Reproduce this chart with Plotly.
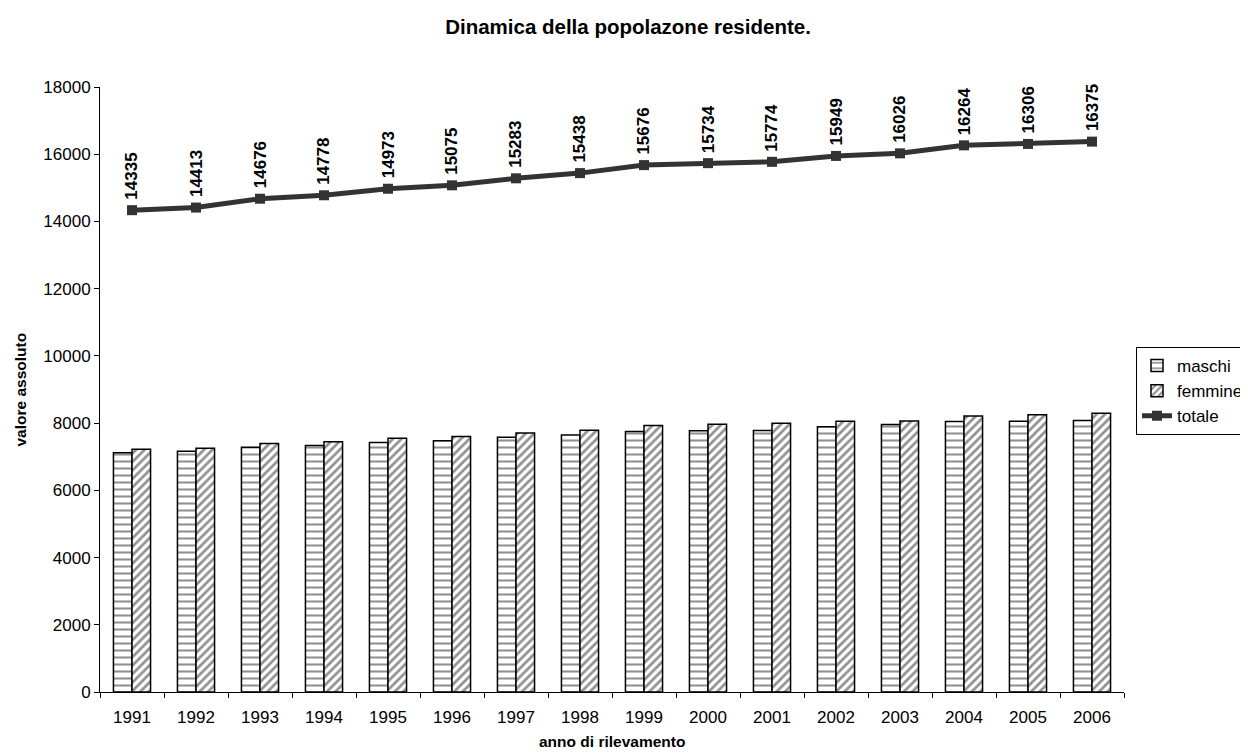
import plotly.graph_objects as go

years = ["1991", "1992", "1993", "1994", "1995", "1996", "1997", "1998",
         "1999", "2000", "2001", "2002", "2003", "2004", "2005", "2006"]
maschi = [7115, 7160, 7285, 7335, 7420, 7475, 7580, 7650,
          7750, 7770, 7780, 7890, 7960, 8050, 8055, 8080]
femmine = [7220, 7253, 7391, 7443, 7553, 7600, 7703, 7788,
           7926, 7964, 7994, 8059, 8066, 8214, 8251, 8295]
totale = [14335, 14413, 14676, 14778, 14973, 15075, 15283, 15438,
          15676, 15734, 15774, 15949, 16026, 16264, 16306, 16375]
y_ticks = [0, 2000, 4000, 6000, 8000, 10000, 12000, 14000, 16000, 18000]

FONT = "Liberation Sans, Arial, sans-serif"

# figure is drawn inside the page's 8px body margin
W, H = 1240, 746
L, T, R, B = 92, 79, 124, 62
PW, PH = W - L - R, H - T - B

fig = go.Figure()
fig.add_trace(go.Bar(
    x=years, y=maschi, name="maschi",
    marker=dict(color="white", line=dict(color="black", width=1.5),
                pattern=dict(shape="-", fgcolor="#222222", bgcolor="white",
                             size=7, solidity=0.3)),
))
fig.add_trace(go.Bar(
    x=years, y=femmine, name="femmine",
    marker=dict(color="white", line=dict(color="black", width=1.5),
                pattern=dict(shape="/", fgcolor="#222222", bgcolor="white",
                             size=6, solidity=0.45)),
))
fig.add_trace(go.Scatter(
    x=years, y=totale, name="totale", mode="lines+markers",
    line=dict(color="#333333", width=5),
    marker=dict(symbol="square", size=10, color="#333333"),
))

annotations = []
for i, v in enumerate(totale):
    annotations.append(dict(
        x=i, y=v, xref="x", yref="y", text="<b>%d</b>" % v, showarrow=False,
        textangle=-90, yanchor="bottom", xanchor="center", yshift=8,
        font=dict(family=FONT, size=17, color="black"),
    ))
annotations.append(dict(
    x=0.5, y=-(733 - 684) / PH, xref="paper", yref="paper",
    text="<b>anno di rilevamento</b>",
    showarrow=False, font=dict(family=FONT, size=15.5, color="black"),
    xanchor="center", yanchor="middle",
))
annotations.append(dict(
    x=-(L - 12) / PW, y=0.5, xref="paper", yref="paper",
    text="<b>valore assoluto</b>",
    showarrow=False, textangle=-90, font=dict(family=FONT, size=15.5, color="black"),
    xanchor="center", yanchor="middle",
))

fig.update_layout(
    width=W, height=H,
    paper_bgcolor="white", plot_bgcolor="white",
    margin=dict(l=L, r=R, t=T, b=B, autoexpand=False),
    font=dict(family=FONT, size=17, color="black"),
    title=dict(text="<b>Dinamica della popolazone residente.</b>",
               x=0.5, xref="container", xanchor="center",
               y=1 - 19 / H, yref="container", yanchor="middle",
               font=dict(family=FONT, size=20.5, color="black")),
    barmode="group", bargap=0.42, bargroupgap=0,
    showlegend=True,
    legend=dict(x=(1128 - L) / PW, xanchor="left",
                y=(684 - 339) / PH, yanchor="top",
                bordercolor="black", borderwidth=1, bgcolor="white",
                font=dict(family=FONT, size=17, color="black"),
                itemwidth=30, tracegroupgap=0),
    annotations=annotations,
    xaxis=dict(type="category", categoryorder="array", categoryarray=years,
               range=[-0.5, len(years) - 0.5], autorange=False,
               showgrid=False, showline=True, linecolor="black",
               linewidth=1, ticks="outside", tickson="boundaries", ticklen=5,
               tickcolor="black", tickfont=dict(size=17), zeroline=False,
               ticklabelstandoff=10),
    yaxis=dict(range=[0, 18000], autorange=False, tickvals=y_ticks, tickformat="d",
               showgrid=False, showline=True,
               linecolor="black", linewidth=1, ticks="outside", ticklen=5,
               tickcolor="black", tickfont=dict(size=17), zeroline=False),
)

fig.write_html("out.html")
